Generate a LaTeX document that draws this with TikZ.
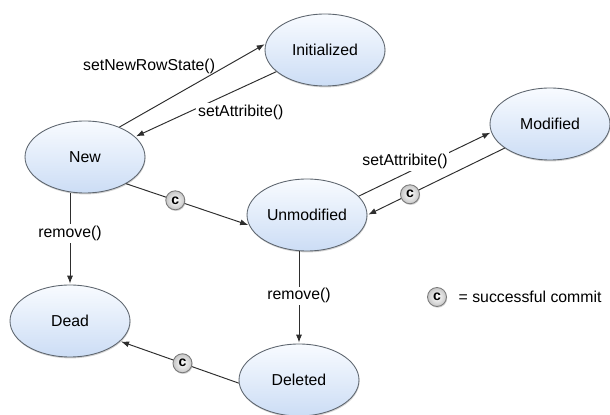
\documentclass[tikz,border=0pt]{standalone}
\usepackage{fontspec}
\setmainfont{Liberation Sans}
\usetikzlibrary{positioning, shapes.geometric, arrows.meta, shadows}
\definecolor{stateTop}{HTML}{F8FBFF}
\definecolor{stateBottom}{HTML}{CCDDF5}
\definecolor{stateBorder}{HTML}{5E666F}
\definecolor{lineColor}{HTML}{2E2E2E}
\definecolor{badgeBorder}{HTML}{7A7A7A}

\begin{document}
\begin{tikzpicture}[
    x=0.02cm, y=-0.02cm,
    every node/.style={font=\fontsize{9}{11}\selectfont},
    state/.style={
        ellipse,
        draw=stateBorder,
        line width=0.5pt,
        top color=stateTop,
        bottom color=stateBottom,
        minimum width=2.4cm,
        minimum height=1.44cm,
        inner sep=0pt,
        drop shadow={shadow xshift=0.3pt, shadow yshift=-0.8pt, opacity=0.35},
    },
    badge/.style={
        circle,
        draw=badgeBorder,
        line width=0.5pt,
        inner color=white,
        outer color=gray!45,
        minimum size=0.38cm,
        inner sep=0pt,
        font=\fontsize{8}{9}\selectfont\bfseries,
        drop shadow={shadow xshift=0.4pt, shadow yshift=-0.7pt, opacity=0.35},
    },
    trans/.style={
        -{Latex[length=1.6mm, width=1.2mm]},
        draw=lineColor,
        line width=0.55pt,
        shorten >=0.5pt,
    },
    lbl/.style={
        fill=white,
        inner sep=1pt,
    },
]

\useasboundingbox (0,0) rectangle (610,415);

\node[state] (init) at (325,50) {Initialized};
\node[state] (new) at (85,157) {New};
\node[state] (mod) at (550,124) {Modified};
\node[state] (unmod) at (307,215) {Unmodified};
\node[state] (dead) at (70,321) {Dead};
\node[state] (del) at (299,380) {Deleted};

\draw[trans] (new.41) -- node[inner sep=1pt, pos=0.67, anchor=south east, yshift=-2.5pt] (lblrow) {setNewRowState()} (init.174);
\draw[trans] (init.204) -- node[lbl, pos=0.57, anchor=west, yshift=-2pt] (lblattr) {setAttribite()} (new.22);
\draw[trans] (new.327) -- node[badge, pos=0.4] (cnew) {c} (unmod.190);
\draw[trans] (unmod.20) -- node[lbl, pos=0.35, above=1.5pt] (lblmod) {setAttribite()} (mod.188);
\draw[trans] (mod.208) -- node[badge, pos=0.69] (cmod) {c} (unmod.east);
\draw[trans] (dead.north |- new.south) -- node[lbl, pos=0.44] (lbldead) {remove()} (dead.north);
\draw[trans] (del.north |- unmod.south) -- node[lbl, pos=0.48] (lbldel) {remove()} (del.north);
\draw[trans] (del.183) -- node[badge, pos=0.475] (cdel) {c} (dead.338);

\node[badge] (legc) at (437,297) {c};
\node[right=5.5pt of legc, inner sep=1pt] (legtext) {= successful commit};

\end{tikzpicture}
\end{document}
